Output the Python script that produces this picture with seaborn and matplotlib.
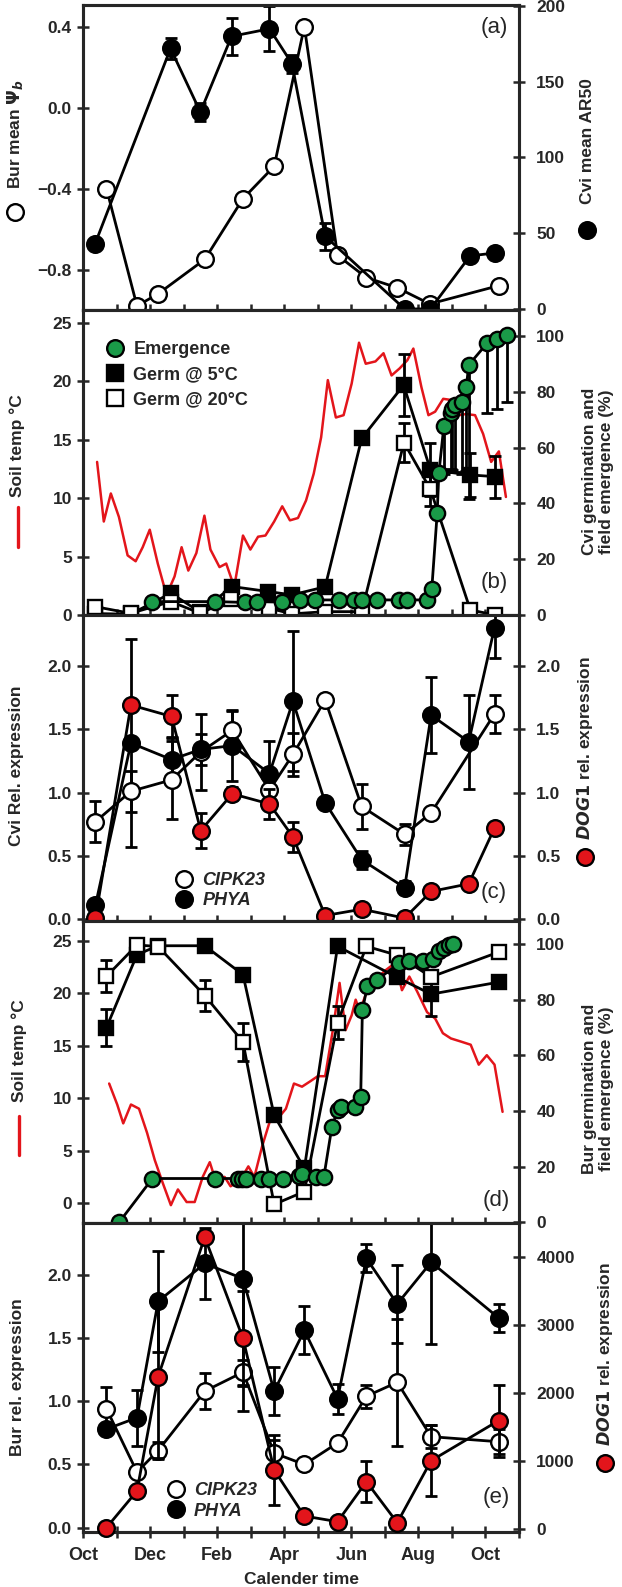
import matplotlib.pyplot as plt
import seaborn as sns
from matplotlib.lines import Line2D
from matplotlib.ticker import MultipleLocator

sns.set_style('ticks')
plt.rcParams['font.family'] = ['Liberation Sans', 'DejaVu Sans']
plt.rcParams['font.weight'] = 'bold'
plt.rcParams['mathtext.default'] = 'regular'

RED = '#e3151b'
GREEN = '#1a9a48'
LW = 2.0

# x axis = months after 1 October
month_ticks = [0, 2, 4, 6, 8, 10, 12]
month_names = ['Oct', 'Dec', 'Feb', 'Apr', 'Jun', 'Aug', 'Oct']

# (a) Bur mean psi_b (open) and Cvi AR50 (filled)
a_bur_m = [0.70, 1.61, 2.24, 3.63, 4.77, 5.70, 6.60, 7.59, 8.45, 9.37, 10.34, 12.39]
a_bur_psi = [-0.40, -0.98, -0.92, -0.75, -0.45, -0.29, 0.40, -0.73, -0.84, -0.89, -0.97, -0.88]
a_cvi_m = [0.36, 2.61, 3.50, 4.43, 5.56, 6.23, 7.22, 9.59, 10.36, 11.54, 12.29]
a_cvi_ar50 = [43, 172, 130, 180, 185, 162, 48, 0, 0, 35, 37]
a_cvi_err = [0, 7, 6, 12, 15, 6, 9, 0, 0, 0, 0]

# (b) Cvi soil temperature, germination and emergence
b_temp_m = [0.42, 0.62, 0.83, 1.07, 1.33, 1.57, 1.78, 1.99, 2.23, 2.49, 2.73, 2.94, 3.14, 3.38,
            3.62, 3.80, 4.07, 4.27, 4.51, 4.77, 4.99, 5.22, 5.44, 5.70, 5.94, 6.17, 6.41, 6.65,
            6.88, 7.10, 7.30, 7.54, 7.77, 8.01, 8.23, 8.43, 8.72, 8.96, 9.20, 9.44, 9.67, 9.85,
            10.09, 10.30, 10.50, 10.74, 10.98, 11.22, 11.42, 11.69, 11.93, 12.17, 12.40, 12.61]
b_temp = [13.1, 8.0, 10.4, 8.4, 5.1, 4.6, 5.8, 7.3, 4.4, 1.7, 3.3, 5.8, 3.8, 5.3,
          8.5, 5.6, 4.1, 4.4, 2.4, 6.8, 5.6, 6.7, 6.8, 8.0, 9.3, 8.1, 8.3, 9.8,
          12.1, 15.2, 20.1, 16.9, 17.1, 19.8, 23.3, 21.5, 21.7, 22.4, 20.5, 21.1, 21.8, 22.8,
          19.5, 17.1, 17.4, 18.5, 18.4, 17.1, 17.2, 17.1, 15.5, 13.1, 14.0, 10.1]
b_g5_m = [0.36, 1.42, 2.62, 3.50, 4.44, 5.53, 6.23, 7.22, 8.31, 9.56, 10.36, 11.54, 12.27]
b_g5 = [0.5, 0.3, 7.8, 1.0, 10.2, 8.4, 7.2, 10.1, 63.3, 82.4, 52.0, 50.2, 49.6]
b_g5_err = [0, 0, 0, 0, 0, 0, 0, 0, 0, 11, 9.5, 8, 7.5]
b_g20_m = [0.36, 1.42, 2.62, 3.50, 4.42, 5.56, 6.23, 7.22, 8.31, 9.57, 10.36, 11.55, 12.29]
b_g20 = [3.0, 0.6, 4.8, 0.6, 5.7, 2.4, 0.4, 1.2, 1.2, 61.8, 45.0, 1.8, 0.0]
b_g20_err = [0, 0, 0, 0, 0, 0, 0, 0, 0, 7, 6, 0, 0]
b_em_m = [2.05, 3.94, 4.84, 5.18, 5.93, 6.48, 6.93, 7.62, 8.07, 8.32, 8.77, 9.41, 9.66, 10.26,
          10.40, 10.56, 10.61, 10.76, 10.96, 11.00, 11.10, 11.30, 11.43, 11.50, 12.05, 12.35, 12.65]
b_em = [4.8, 4.8, 4.5, 4.8, 4.6, 5.2, 5.4, 5.4, 5.4, 5.4, 5.4, 5.4, 5.4, 5.4,
        9.4, 36.4, 50.8, 67.7, 72.3, 74.0, 75.3, 76.5, 81.6, 89.6, 97.4, 98.8, 100.4]
b_em_lo = [0, 0, 0, 0, 0, 0, 0, 0, 0, 0, 0, 0, 0, 0,
           0, 0, 0, 17, 20, 22, 24, 26, 30, 48, 25, 25, 24]

# (c) Cvi expression
c_cipk_m = [0.37, 1.43, 2.64, 3.51, 4.45, 5.56, 6.26, 7.22, 8.31, 9.59, 10.38, 12.27]
c_cipk = [0.77, 1.01, 1.10, 1.32, 1.49, 1.02, 1.30, 1.73, 0.89, 0.67, 0.84, 1.62]
c_cipk_err = [0.16, 0.16, 0.31, 0.30, 0.15, 0.10, 0.17, 0, 0.18, 0.08, 0, 0.15]
c_phya_m = [0.37, 1.43, 2.64, 3.51, 4.45, 5.56, 6.26, 7.22, 8.31, 9.59, 10.38, 11.50, 12.27]
c_phya = [0.11, 1.39, 1.26, 1.34, 1.37, 1.15, 1.72, 0.92, 0.47, 0.25, 1.61, 1.40, 2.30]
c_phya_err = [0, 0.82, 0.18, 0.12, 0.28, 0.26, 0.55, 0.03, 0.07, 0.05, 0.30, 0.37, 0.24]
c_dog_m = [0.37, 1.43, 2.64, 3.51, 4.45, 5.56, 6.26, 7.22, 8.31, 9.59, 10.38, 11.50, 12.27]
c_dog = [0.01, 1.69, 1.60, 0.70, 0.99, 0.91, 0.65, 0.03, 0.08, 0.01, 0.22, 0.28, 0.72]
c_dog_err = [0, 0, 0.17, 0.14, 0.05, 0.12, 0.12, 0, 0, 0, 0, 0, 0]

# (d) Bur soil temperature, germination and emergence
d_temp_m = [0.78, 1.02, 1.20, 1.43, 1.67, 1.91, 2.14, 2.38, 2.62, 2.83, 3.09, 3.33, 3.57,
            3.78, 3.98, 4.22, 4.40, 4.69, 4.93, 5.11, 5.34, 5.58, 5.82, 6.05, 6.29, 6.53,
            6.77, 7.00, 7.22, 7.45, 7.65, 7.83, 8.01, 8.13, 8.25, 8.42, 8.72, 9.02, 9.31,
            9.51, 9.73, 9.96, 10.26, 10.50, 10.73, 10.97, 11.27, 11.56, 11.80, 12.04, 12.27, 12.51]
d_temp = [11.4, 9.4, 7.6, 9.4, 9.0, 6.7, 4.1, 1.9, -0.2, 1.3, 0.1, 0.1, 2.5,
          3.9, 1.9, 2.5, 1.6, 2.2, 3.5, 2.5, 5.4, 7.9, 8.1, 9.0, 11.4, 11.1,
          11.6, 12.1, 12.1, 16.5, 21.0, 16.5, 17.9, 19.4, 18.3, 19.8, 21.3, 22.2, 22.9,
          20.3, 21.6, 20.2, 18.2, 17.6, 16.2, 15.7, 15.4, 15.1, 13.2, 14.1, 13.2, 8.7]
d_g5_m = [0.70, 1.61, 2.24, 3.63, 4.77, 5.70, 6.60, 7.59, 9.37, 10.38, 12.39]
d_g5 = [70.0, 96.2, 99.4, 99.4, 89.0, 38.4, 19.3, 99.2, 88.0, 82.0, 86.3]
d_g5_err = [6.5, 0, 0, 0, 0, 0, 0, 0, 0, 8, 0]
d_g20_m = [0.70, 1.61, 2.24, 3.63, 4.77, 5.70, 6.60, 7.59, 8.45, 9.37, 10.38, 12.39]
d_g20 = [88.4, 99.7, 99.1, 81.5, 64.8, 6.4, 11.0, 71.8, 99.2, 96.0, 88.2, 97.1]
d_g20_err = [5.8, 0, 0, 5.6, 6.7, 0, 0, 6, 0, 0, 0, 0]
d_em_m = [1.08, 2.07, 3.95, 4.62, 4.75, 4.85, 5.30, 5.55, 5.97, 6.43, 6.52, 6.94, 7.18,
          7.42, 7.59, 7.69, 8.10, 8.28, 8.33, 8.48, 8.78, 9.43, 9.73, 10.14, 10.44, 10.62,
          10.77, 10.91, 11.03]
d_em = [0, 15.7, 15.7, 15.7, 15.7, 15.7, 15.7, 15.7, 15.7, 16.5, 17.5, 16.2, 16.2,
        34.2, 40.2, 41.4, 41.4, 44.9, 76.3, 84.9, 87.2, 93.2, 93.8, 93.8, 94.5, 97.4,
        98.6, 99.8, 100.2]

# (e) Bur expression
e_m = [0.70, 1.61, 2.24, 3.63, 4.77, 5.70, 6.60, 7.59, 8.45, 9.37, 10.38, 12.39]
e_cipk = [0.94, 0.44, 0.61, 1.08, 1.23, 0.59, 0.50, 0.67, 1.04, 1.15, 0.72, 0.68]
e_cipk_err = [0.17, 0, 0.07, 0.14, 0.10, 0.10, 0, 0, 0.09, 0.50, 0.09, 0.10]
e_phya = [0.78, 0.87, 1.79, 2.09, 1.97, 1.08, 1.56, 1.02, 2.13, 1.77, 2.10, 1.66]
e_phya_err = [0, 0.22, 0.40, 0.28, 1.05, 0.19, 0.19, 0.12, 0.11, 0.31, 0.65, 0.11]
e_dog = [20, 560, 2243, 4296, 2808, 869, 191, 108, 697, 93, 1006, 1595]
e_dog_err = [0, 0, 1200, 0, 700, 515, 0, 0, 300, 0, 520, 530]


def series(ax, x, y, face, err=None, marker='o', ms=12, z=3):
    if err is not None:
        ax.errorbar(x, y, yerr=err, fmt='none', ecolor='black', elinewidth=LW,
                    capsize=4.5, capthick=LW, zorder=z - 0.5)
    sns.lineplot(x=x, y=y, ax=ax, color='black', linewidth=LW, marker=marker,
                 markersize=ms, markerfacecolor=face, markeredgecolor='black',
                 markeredgewidth=1.7, estimator=None, sort=False, zorder=z, clip_on=False)


def fmt_ticks(ax, ticks, fmt):
    ax.set_yticks(ticks, labels=[fmt.format(t).replace('-', '\u2212') for t in ticks])
    ax.tick_params(axis='y', direction='inout', length=9, width=1.8, labelsize=12.5)


def side_label(ax, x, y, text, key=None, key_y=None, color='black', face='white'):
    ax.text(x, y, text, transform=ax.transAxes, rotation=90, ha='center', va='center',
            fontsize=12.5, fontweight='bold', linespacing=1.2)
    if key == 'dot':
        ax.plot([x], [key_y], transform=ax.transAxes, clip_on=False, marker='o', ms=12,
                mfc=face, mec='black', mew=1.7, ls='none')
    elif key == 'line':
        ax.plot([x, x], [key_y - 0.065, key_y + 0.065], transform=ax.transAxes,
                clip_on=False, color=color, lw=2.4)


fig = plt.figure(figsize=(6.22, 15.87), dpi=100)
L, W = 83 / 622, 436 / 622
bounds = [(5, 310), (310, 615), (615, 921), (921, 1223), (1223, 1532)]
axes = []
for top, bot in bounds:
    ax = fig.add_axes([L, 1 - bot / 1587, W, (bot - top) / 1587])
    axes.append((ax, ax.twinx()))

for i, (ax, ax2) in enumerate(axes):
    ax.set_xlim(0, 13)
    ax.set_xticks(month_ticks, labels=month_names if i == 4 else [''] * len(month_ticks))
    ax.xaxis.set_minor_locator(MultipleLocator(1))
    ax.tick_params(axis='x', which='both', direction='inout', length=9, width=1.8,
                   labelsize=13, pad=6)
    for a in (ax, ax2):
        for s in a.spines.values():
            s.set_linewidth(2.2)
    ax2.tick_params(axis='y', pad=8)

# (a)
ax, ax2 = axes[0]
series(ax, a_bur_m, a_bur_psi, 'white')
series(ax2, a_cvi_m, a_cvi_ar50, 'black', err=a_cvi_err)
ax.set_ylim(-1.0, 0.507)
ax2.set_ylim(-0.7, 200.7)
fmt_ticks(ax, [-0.8, -0.4, 0.0, 0.4], '{:.1f}')
fmt_ticks(ax2, [0, 50, 100, 150, 200], '{:d}')
side_label(ax, -0.155, 0.577, 'Bur mean $\\mathit{\\Psi_b}$', 'dot', 0.32)
side_label(ax, 1.156, 0.554, 'Cvi mean AR50', 'dot', 0.262, face='black')
ax.text(0.943, 0.925, '(a)', transform=ax.transAxes, ha='center', va='center', fontsize=16,
        fontweight='normal')

# (b)
ax, ax2 = axes[1]
sns.lineplot(x=b_temp_m, y=b_temp, ax=ax, color=RED, linewidth=1.8, estimator=None, sort=False)
series(ax2, b_g5_m, b_g5, 'black', err=b_g5_err, marker='s', ms=10.5)
series(ax2, b_g20_m, b_g20, 'white', err=b_g20_err, marker='s', ms=10.5, z=4)
ax2.errorbar(b_em_m, b_em, yerr=[b_em_lo, [0] * len(b_em_lo)], fmt='none', ecolor='black',
             elinewidth=LW, capsize=4.5, capthick=LW, zorder=4.5)
series(ax2, b_em_m, b_em, GREEN, ms=11, z=5)
ax.set_ylim(0, 26.1)
ax2.set_ylim(0, 109.3)
fmt_ticks(ax, [0, 5, 10, 15, 20, 25], '{:d}')
fmt_ticks(ax2, [0, 20, 40, 60, 80, 100], '{:d}')
side_label(ax, -0.15, 0.554, 'Soil temp \u00b0C', 'line', 0.289, color=RED)
side_label(ax, 1.181, 0.47, 'Cvi germination and\nfield emergence (%)')
ax.text(0.943, 0.105, '(b)', transform=ax.transAxes, ha='center', va='center', fontsize=16,
        fontweight='normal')
hb = [Line2D([], [], marker='o', ls='none', ms=12, mfc=GREEN, mec='black', mew=1.7),
      Line2D([], [], marker='s', ls='none', ms=11, mfc='black', mec='black', mew=1.7),
      Line2D([], [], marker='s', ls='none', ms=11, mfc='white', mec='black', mew=1.7)]
ax2.legend(hb, ['Emergence', 'Germ @ 5\u00b0C', 'Germ @ 20\u00b0C'], loc='upper left',
           bbox_to_anchor=(0.033, 0.928), frameon=False, borderpad=0, handlelength=1.0,
           handletextpad=0.5, labelspacing=0.45, prop={'size': 13, 'weight': 'bold'})

# (c)
ax, ax2 = axes[2]
series(ax, c_cipk_m, c_cipk, 'white', err=c_cipk_err)
series(ax, c_phya_m, c_phya, 'black', err=c_phya_err)
series(ax2, c_dog_m, c_dog, RED, err=c_dog_err)
ax.set_ylim(-0.013, 2.40)
ax2.set_ylim(-0.013, 2.40)
fmt_ticks(ax, [0, 0.5, 1.0, 1.5, 2.0], '{:.1f}')
fmt_ticks(ax2, [0, 0.5, 1.0, 1.5, 2.0], '{:.1f}')
side_label(ax, -0.153, 0.507, 'Cvi Rel. expression')
side_label(ax, 1.151, 0.565, '$\\mathit{DOG1}$ rel. expression', 'dot', 0.21, face=RED)
ax.text(0.943, 0.092, '(c)', transform=ax.transAxes, ha='center', va='center', fontsize=16,
        fontweight='normal')
hc = [Line2D([], [], marker='o', ls='none', ms=12, mfc='white', mec='black', mew=1.7),
      Line2D([], [], marker='o', ls='none', ms=12, mfc='black', mec='black', mew=1.7)]
ax2.legend(hc, ['CIPK23', 'PHYA'], loc='upper left', bbox_to_anchor=(0.191, 0.19),
           frameon=False, borderpad=0, handlelength=1.0, handletextpad=0.5, labelspacing=0.2,
           prop={'size': 13, 'weight': 'bold', 'style': 'italic'})

# (d)
ax, ax2 = axes[3]
sns.lineplot(x=d_temp_m, y=d_temp, ax=ax, color=RED, linewidth=1.8, estimator=None, sort=False)
series(ax2, d_g5_m, d_g5, 'black', err=d_g5_err, marker='s', ms=10.5)
series(ax2, d_g20_m, d_g20, 'white', err=d_g20_err, marker='s', ms=10.5, z=4)
series(ax2, d_em_m, d_em, GREEN, ms=11, z=5)
ax.set_ylim(-1.9, 26.9)
ax2.set_ylim(-0.3, 108.3)
fmt_ticks(ax, [0, 5, 10, 15, 20, 25], '{:d}')
fmt_ticks(ax2, [0, 20, 40, 60, 80, 100], '{:d}')
side_label(ax, -0.147, 0.57, 'Soil temp \u00b0C', 'line', 0.29, color=RED)
side_label(ax, 1.181, 0.444, 'Bur germination and\nfield emergence (%)')
ax.text(0.947, 0.076, '(d)', transform=ax.transAxes, ha='center', va='center', fontsize=16,
        fontweight='normal')

# (e)
ax, ax2 = axes[4]
series(ax, e_m, e_cipk, 'white', err=e_cipk_err)
series(ax, e_m, e_phya, 'black', err=e_phya_err)
series(ax2, e_m, e_dog, RED, err=e_dog_err)
ax.set_ylim(-0.034, 2.41)
ax2.set_ylim(-44, 4505)
fmt_ticks(ax, [0, 0.5, 1.0, 1.5, 2.0], '{:.1f}')
fmt_ticks(ax2, [0, 1000, 2000, 3000, 4000], '{:d}')
side_label(ax, -0.15, 0.50, 'Bur rel. expression')
side_label(ax, 1.197, 0.576, '$\\mathit{DOG1}$ rel. expression', 'dot', 0.223, face=RED)
ax.text(0.947, 0.113, '(e)', transform=ax.transAxes, ha='center', va='center', fontsize=16,
        fontweight='normal')
ax2.legend(hc, ['CIPK23', 'PHYA'], loc='upper left', bbox_to_anchor=(0.172, 0.191),
           frameon=False, borderpad=0, handlelength=1.0, handletextpad=0.5, labelspacing=0.2,
           prop={'size': 13, 'weight': 'bold', 'style': 'italic'})
ax.set_xlabel('Calender time', fontsize=12.5, fontweight='bold', labelpad=6)

for ax, ax2 in axes:
    ax2.set_xlabel('')
    ax2.set_ylabel('')
    ax.set_ylabel('')

fig.savefig('out.png', dpi=100)
